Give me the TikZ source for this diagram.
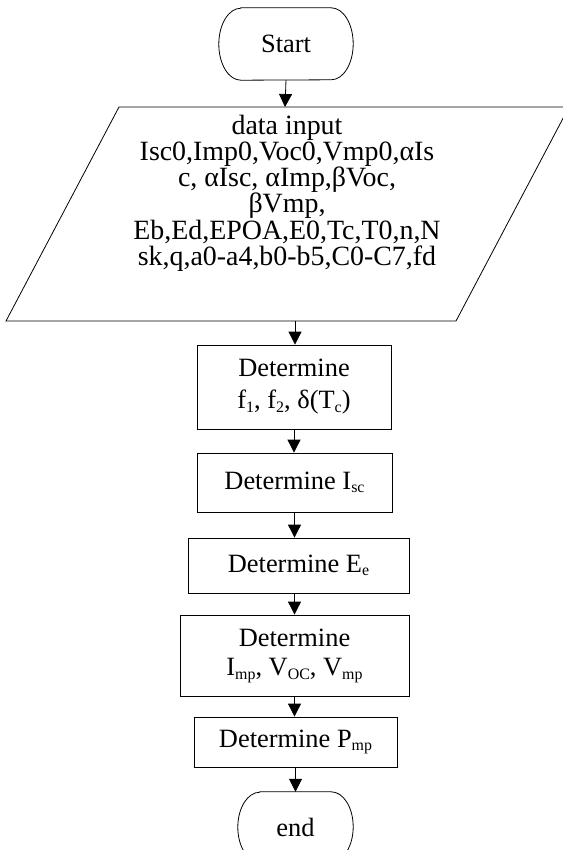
\documentclass[tikz,border=0pt]{standalone}
\usepackage{fontspec}
\setmainfont{Liberation Serif}
\usetikzlibrary{arrows.meta,calc}
\newcommand\sbs[1]{\raisebox{-0.12em}{\fontsize{16}{16}\selectfont #1}}
\begin{document}
\begin{tikzpicture}[x=1bp,y=1bp,
  every node/.style={font=\fontsize{26.5}{31}\selectfont},
  line/.style={line width=0.8bp},
  box/.style={draw, line, align=center, inner sep=0pt},
  term/.style={align=center, inner sep=0pt},
  arr/.style={line, -{Triangle[length=13bp,width=13bp]}}]
\useasboundingbox (0,0) rectangle (563,-850);
\clip (0,0) rectangle (563,-850);
% Start terminal
\node[term, minimum width=134bp, minimum height=72bp] (start) at (286,-44) {Start};
\draw[line] ($(start.north west)+(22,0)$) -- ($(start.north east)+(-22,0)$)
  arc[start angle=90,end angle=-90,x radius=22,y radius=36]
  -- ($(start.south west)+(22,0)$)
  arc[start angle=270,end angle=90,x radius=22,y radius=36] -- cycle;
% Input parallelogram
\draw[line] (119,-107) -- (569,-107) -- (456,-321) -- (6,-321) -- cycle;
\coordinate (inTop) at (285,-107);
\coordinate (inBot) at (295,-321);
\node[align=center, inner sep=0pt, font=\fontsize{28}{26.3}\selectfont] (in) at (287,-193)
  {data input\\Isc0,Imp0,Voc0,Vmp0,αIs\\c, αIsc, αImp,βVoc,\\βVmp,\\Eb,Ed,EPOA,E0,Tc,T0,n,N\\sk,q,a0-a4,b0-b5,C0-C7,fd};
% Process boxes
\node[box, minimum width=194bp, minimum height=84bp, font=\fontsize{26.5}{32}\selectfont] (f) at (294,-387)
  {Determine\\f\sbs{1}, f\sbs{2}, δ(T\sbs{c})};
\node[box, minimum width=195bp, minimum height=59bp] (isc) at (294.5,-482.5)
  {Determine I\sbs{sc}};
\node[box, minimum width=221bp, minimum height=55bp] (ee) at (298.5,-565.5)
  {Determine E\sbs{e}};
\node[box, minimum width=229bp, minimum height=81bp, font=\fontsize{26.5}{30}\selectfont] (imp) at (294.5,-655.5)
  {Determine\\I\sbs{mp}, V\sbs{OC}, V\sbs{mp}};
\node[box, minimum width=203bp, minimum height=50bp] (pmp) at (295.5,-742)
  {Determine P\sbs{mp}};
% End terminal
\node[term, minimum width=115bp, minimum height=70bp] (end) at (295.5,-827) {end};
\draw[line] ($(end.north west)+(22,0)$) -- ($(end.north east)+(-22,0)$)
  arc[start angle=90,end angle=-90,x radius=22,y radius=35]
  -- ($(end.south west)+(22,0)$)
  arc[start angle=270,end angle=90,x radius=22,y radius=35] -- cycle;
% Connectors
\draw[arr] (start.south) -- (inTop);
\draw[arr] (inBot) -- (inBot |- f.north);
\draw[arr] (f.south) -- (f.south |- isc.north);
\draw[arr] (isc.south) -- (isc.south |- ee.north);
\draw[arr] (isc.south |- ee.south) -- (isc.south |- imp.north);
\draw[arr] (imp.south) -- (imp.south |- pmp.north);
\draw[arr] (pmp.south) -- (pmp.south |- end.north);
\end{tikzpicture}
\end{document}
